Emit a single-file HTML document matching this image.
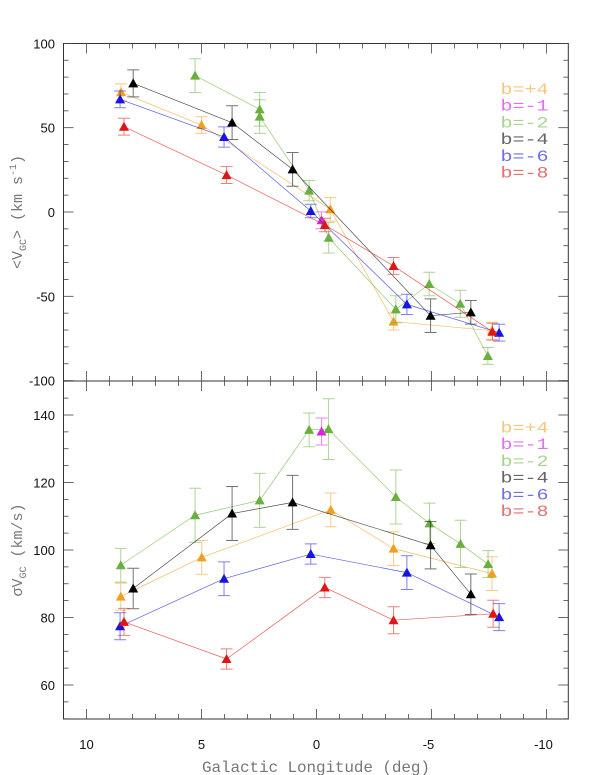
<!DOCTYPE html>
<html><head><meta charset="utf-8"><style>
html,body{margin:0;padding:0;background:#fff;}
svg{display:block;}
</style></head><body>
<svg id="chart" width="600" height="775" xmlns="http://www.w3.org/2000/svg">
<text x="316" y="772" text-anchor="middle" font-family="Liberation Mono, monospace" font-size="16" fill="#777" textLength="228">Galactic Longitude (deg)</text>
<text transform="translate(22,212) rotate(-90)" text-anchor="middle" font-family="Liberation Mono, monospace" font-size="15" fill="#777">&lt;V<tspan font-size="10" dy="4">GC</tspan><tspan dy="-4">&gt; (km s</tspan><tspan font-size="10" dy="-6">-1</tspan><tspan dy="6">)</tspan></text>
<text transform="translate(22,550) rotate(-90)" text-anchor="middle" font-family="Liberation Mono, monospace" font-size="15" fill="#777">σV<tspan font-size="10" dy="4">GC</tspan><tspan dy="-4"> (km/s)</tspan></text>
</svg>
<script>
const lons = {
 p4:[8.5,5.0,-0.6,-3.35,-7.63],
 m1:[-0.22],
 m2:[5.28,2.47,2.47,0.32,-0.53,-3.45,-4.9,-6.25,-7.45],
 m4:[7.97,3.67,1.04,-4.96,-6.71],
 m6:[8.54,4.02,0.25,-3.93,-7.94],
 m8:[8.37,3.91,-0.36,-3.35,-7.65]
};
const meanVel = {
 p4:[71,51.6,1.6,-65,-70.4],
 m1:[-4.9],
 m2:[80.9,60.9,56.6,12.7,-15.3,-57.7,-42.7,-54.4,-85.4],
 m4:[76.3,53,25.3,-61.5,-59.5],
 m6:[66.8,44.5,0.6,-54.8,-71.6],
 m8:[50.6,21.9,-7.7,-32,-71]
};
const meanErr = {
 p4:[5,5,7,5,5], m1:[5], m2:[10,10,10,6,9,8,7,8,5], m4:[8,10,10,10,7], m6:[5,6,4,6,5], m8:[5,5,4,5,5]
};
const sigLons = {
 p4:[8.51,4.99,-0.62,-3.35,-7.63],
 m1:[-0.22],
 m2:[8.51,5.28,2.47,0.32,-0.52,-3.45,-4.91,-6.26,-7.46],
 m4:[7.97,3.67,1.04,-4.96,-6.71],
 m6:[8.54,4.02,0.25,-3.93,-7.94],
 m8:[8.37,3.91,-0.36,-3.35,-7.68]
};
const sigVel = {
 p4:[86.2,97.8,111.9,100.4,93],
 m1:[135.1],
 m2:[95.5,110.3,114.7,135.6,135.8,115.7,107.9,101.8,95.8],
 m4:[88.6,110.8,114.1,101.4,86.9],
 m6:[77.4,91.5,98.8,93.3,80.1],
 m8:[78.7,67.7,88.9,79.2,81.1]
};
const sigErr = {
 p4:[4,5,5,5,5], m1:[4], m2:[5,8,8,5,9,8,6,7,4], m4:[6,8,8,7,6], m6:[4,5,3,5,4], m8:[4,3,3,4,4]
};
const seriesKeys = ['p4','m1','m2','m4','m6','m8'];
const seriesLabels = ['b=+4','b=-1','b=-2','b=-4','b=-6','b=-8'];
const xTicks = [10,5,0,-5,-10];
const topYTicks = [100,50,0,-50,-100];
const botYTicks = [140,120,100,80,60];

const colors = {p4:'#f0a020',m1:'#e020e0',m2:'#6ab040',m4:'#000000',m6:'#1515e0',m8:'#e01515'};
const legendColors = {p4:'#f3c880',m1:'#e070f0',m2:'#a8d490',m4:'#666',m6:'#7070e4',m8:'#e47070'};
const NS='http://www.w3.org/2000/svg';
const svg=document.getElementById('chart');
const L=63.5,R=568.3;
const xs=l=>316.5-23*l;
const yTop=v=>212-1.686*v;
const yBot=v=>550-3.375*(v-100);
function el(tag,attrs,parent){const e=document.createElementNS(NS,tag);for(const k in attrs)e.setAttribute(k,attrs[k]);(parent||svg).appendChild(e);return e;}

const f1=el('rect',{x:L,y:43.5,width:R-L,height:381-43.5,fill:'none',stroke:'#333','stroke-width':1});


const f2=el('rect',{x:L,y:381,width:R-L,height:719-381,fill:'none',stroke:'#333','stroke-width':1});



for(let l=-10;l<=10;l++){
  const x=xs(l), len=(l%5===0)?10:5;
  [[43.5,1],[381,-1],[381,1],[719,-1]].forEach(([y,d])=>{
    const t=el('line',{x1:x,x2:x,y1:y,y2:y+d*len,stroke:'#444','stroke-width':0.8});
    
    
  });
}
xTicks.forEach(l=>{
  const t=el('text',{x:xs(l)+(l<0?-3:0),y:749,'text-anchor':'middle','font-family':'Liberation Sans, sans-serif','font-size':13,fill:'#111'});
  t.textContent=String(l);
  
  
});
for(let v=-100;v<=100;v+=10){
  const y=yTop(v), len=(v%50===0)?10:5;
  [[L,1],[R,-1]].forEach(([x,d])=>{
    const t=el('line',{x1:x,x2:x+d*len,y1:y,y2:y,stroke:'#444','stroke-width':0.8});
    
    
  });
}
topYTicks.forEach(v=>{
  const t=el('text',{x:55,y:yTop(v)+5,'text-anchor':'end','font-family':'Liberation Sans, sans-serif','font-size':13,fill:'#111'});
  t.textContent=String(v);
  
  
});
for(let v=50;v<=150;v+=5){
  const y=yBot(v), len=(v%20===0)?10:5;
  [[L,1],[R,-1]].forEach(([x,d])=>{
    const t=el('line',{x1:x,x2:x+d*len,y1:y,y2:y,stroke:'#444','stroke-width':0.8});
    
    
  });
}
botYTicks.forEach(v=>{
  const t=el('text',{x:55,y:yBot(v)+5,'text-anchor':'end','font-family':'Liberation Sans, sans-serif','font-size':13,fill:'#111'});
  t.textContent=String(v);
  
  
});

function drawPanel(lonSet,valSet,errSet,yf,panel){
  seriesKeys.forEach(k=>{
    const g=el('g',{});
    
    
    const c=colors[k];
    const ls=lonSet[k], vs=valSet[k], es=errSet[k];
    if(ls.length>1){
      const pts=ls.map((l,i)=>xs(l)+','+yf(vs[i])).join(' ');
      const pl=el('polyline',{points:pts,fill:'none',stroke:c,'stroke-width':0.7,'stroke-opacity':0.7},g);
      
      
    }
    ls.forEach((l,i)=>{
      const x=xs(l), y=yf(vs[i]), y1=yf(vs[i]+es[i]), y2=yf(vs[i]-es[i]);
      const eb=el('path',{d:`M${x},${y1}V${y2}M${x-6},${y1}H${x+6}M${x-6},${y2}H${x+6}`,stroke:c,'stroke-width':1,'stroke-opacity':0.55,fill:'none'},g);
      
      
      const tri=el('polygon',{points:`${x},${y-5} ${x-5},${y+4} ${x+5},${y+4}`,fill:c},g);
      
      
    });
  });
  const ly0 = panel==='top'?94:432.5;
  seriesKeys.forEach((k,i)=>{
    const t=el('text',{x:500.5,y:ly0+i*16.7,'font-family':'Liberation Mono, monospace','font-size':16,fill:legendColors[k],textLength:48,lengthAdjust:'spacingAndGlyphs'});
    t.textContent=seriesLabels[i];
    
    
  });
}
drawPanel(lons,meanVel,meanErr,yTop,'top');
drawPanel(sigLons,sigVel,sigErr,yBot,'bottom');
</script>
</body></html>
